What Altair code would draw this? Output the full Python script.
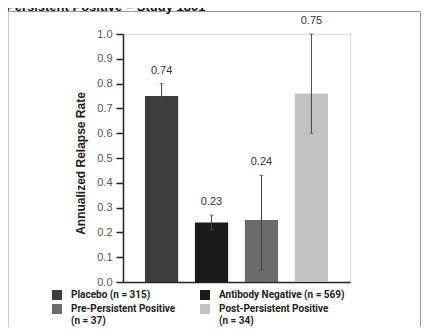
import altair as alt
import pandas as pd

groups = ["Placebo (n = 315)", "Antibody Negative (n = 569)",
          "Pre-Persistent Positive (n = 37)", "Post-Persistent Positive (n = 34)"]
rates = [0.75, 0.24, 0.25, 0.76]
rate_labels = ["0.74", "0.23", "0.24", "0.75"]
err_lo = [0.71, 0.21, 0.05, 0.60]
err_hi = [0.80, 0.27, 0.43, 1.00]
colors = ["#3d3d3d", "#1a1a1a", "#6b6b6b", "#c2c2c2"]
title_text = "Persistent Positive \u2013 Study 1801"
y_ticks = [0.0, 0.1, 0.2, 0.3, 0.4, 0.5, 0.6, 0.7, 0.8, 0.9, 1.0]

df = pd.DataFrame({"group": groups, "rate": rates, "label": rate_labels,
                   "lo": err_lo, "hi": err_hi})

LEG = "Roboto, Liberation Sans, sans-serif"
REG = "Liberation Sans, Arial, sans-serif"

x_axis = alt.Axis(labels=False, ticks=False, title=None, domain=True,
                  domainColor="#222", domainWidth=1.5)
x_scale = alt.Scale(paddingInner=0.335, paddingOuter=0.44)
y_scale = alt.Scale(domain=[0, 1.0], nice=False)
y_axis = alt.Axis(values=y_ticks, format=".1f", title="Annualized Relapse Rate",
                  grid=False, labelOverlap=False, domainColor="#222", domainWidth=1.5,
                  tickColor="#222", tickWidth=1.5, tickSize=7,
                  labelColor="#555", labelFont=REG, labelFontSize=11,
                  labelPadding=4, titleFont=REG, titleFontSize=12, titleY=129,
                  titleFontWeight="bold", titleColor="#222", titlePadding=9)


def X():
    return alt.X("group:N", sort=groups, scale=x_scale, axis=x_axis)


def Y(field):
    return alt.Y(field, scale=y_scale, axis=y_axis)


bars = alt.Chart(df).mark_bar().encode(
    x=X(),
    y=Y("rate:Q"),
    color=alt.Color("group:N", sort=groups,
                    scale=alt.Scale(domain=groups, range=colors),
                    legend=alt.Legend(orient="none", legendX=-71, legendY=256,
                                      columns=2, title=None, direction="horizontal",
                                      symbolType="square", symbolSize=100,
                                      symbolStrokeWidth=0, symbolOpacity=1,
                                      labelFont=LEG, labelFontSize=10,
                                      labelFontWeight="bold", labelColor="#222",
                                      labelOffset=9, columnPadding=24, rowPadding=4,
                                      padding=0, labelLimit=200,
                                      labelExpr="length(datum.label) > 28 ? split(replace(datum.label, ' (n', '|(n'), '|') : datum.label")),
)

rules = alt.Chart(df).mark_rule(color="#444", strokeWidth=1).encode(
    x=X(), y=Y("lo:Q"), y2="hi:Q")
caps_hi = alt.Chart(df).mark_tick(color="#444", thickness=1, size=4).encode(
    x=X(), y=Y("hi:Q"))
caps_lo = alt.Chart(df).mark_tick(color="#444", thickness=1, size=4).encode(
    x=X(), y=Y("lo:Q"))
texts = alt.Chart(df).mark_text(dy=-13, baseline="middle", font=REG, fontSize=11,
                                color="#333").encode(
    x=X(), y=Y("hi:Q"), text="label:N")

one = pd.DataFrame({"k": [0]})
FR = "#9a9a9a"
frame_top = alt.Chart(one).mark_rule(color=FR, strokeWidth=1).encode(
    x=alt.value(-115), x2=alt.value(297.5), y=alt.value(-22.5))
frame_left = alt.Chart(one).mark_rule(color=FR, strokeWidth=1).encode(
    x=alt.value(-115), y=alt.value(-22.5), y2=alt.value(294))
frame_right = alt.Chart(one).mark_rule(color=FR, strokeWidth=1).encode(
    x=alt.value(297.5), y=alt.value(-22.5), y2=alt.value(294))
title = alt.Chart(one).mark_text(text=title_text, align="left", baseline="alphabetic",
                                 font=REG, fontSize=13, fontWeight="bold",
                                 color="#111").encode(
    x=alt.value(-117), y=alt.value(-23.5))

chart = alt.layer(frame_top, frame_left, frame_right, title,
                  bars, rules, caps_hi, caps_lo, texts).properties(
    width=227, height=248,
    autosize=alt.AutoSizeParams(type="none"),
    padding={"left": 115, "top": 26, "right": 71, "bottom": 45},
).configure_view(stroke=None).configure(background="white")

chart.save("out.html", embed_options={"renderer": "svg", "actions": False})
